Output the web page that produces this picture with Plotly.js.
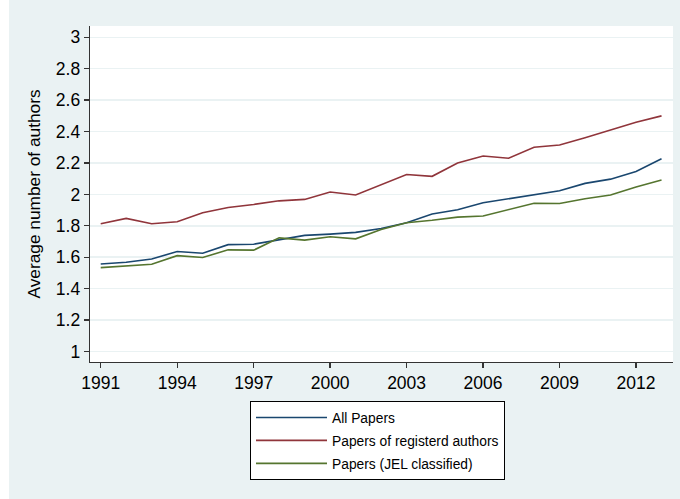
<!DOCTYPE html>
<html>
<head>
<meta charset="utf-8">
<script src="https://cdn.plot.ly/plotly-3.0.1.min.js"></script>
<style>html,body{margin:0;padding:0;background:#fff;}#chart{width:680px;height:499px;}</style>
</head>
<body>
<div id="chart"></div>
<script>
var years = [1991,1992,1993,1994,1995,1996,1997,1998,1999,2000,2001,2002,2003,2004,2005,2006,2007,2008,2009,2010,2011,2012,2013];
var allPapers = [1.557,1.568,1.589,1.636,1.625,1.680,1.683,1.713,1.739,1.747,1.758,1.783,1.820,1.875,1.902,1.947,1.972,1.996,2.023,2.070,2.097,2.146,2.227];
var registeredPapers = [1.813,1.847,1.813,1.826,1.883,1.917,1.936,1.959,1.968,2.015,1.996,2.064,2.127,2.115,2.200,2.244,2.230,2.300,2.314,2.360,2.410,2.459,2.500];
var jelPapers = [1.534,1.543,1.555,1.610,1.598,1.647,1.645,1.723,1.709,1.730,1.717,1.777,1.820,1.835,1.855,1.862,1.904,1.944,1.942,1.972,1.996,2.047,2.091];
var seriesNames = ["All Papers","Papers of registerd authors","Papers (JEL classified)"];
var xTicks = [1991,1994,1997,2000,2003,2006,2009,2012];
var yTicks = [1,1.2,1.4,1.6,1.8,2,2.2,2.4,2.6,2.8,3];

var colors = ["#1A476F","#90353B","#55752F"];
var seriesData = [allPapers, registeredPapers, jelPapers];
var traces = seriesData.map(function(v,i){
  return {x: years, y: v, type:"scatter", mode:"lines", name: seriesNames[i],
    legendgroup: "g"+i, line:{color: colors[i], width:1.6}};
});

var W = 680, H = 499, L = 90, R = 7, T = 26, B = 137;
var pw = W-L-R, ph = H-T-B;
var layout = {
  width: W, height: H,
  margin: {l:L, r:R, t:T, b:B, pad:0},
  paper_bgcolor: "#EAF2F3",
  plot_bgcolor: "#FFFFFF",
  font: {family: "Liberation Sans, Arial, sans-serif", color: "#000"},
  showlegend: true,
  legend: {x:(250-L)/pw, y:(T+ph-401)/ph, xanchor:"left", yanchor:"top",
    bgcolor:"#FFFFFF", bordercolor:"#000", borderwidth:1,
    font:{size:13.8, color:"#000"}, tracegroupgap:2, itemwidth:71},
  xaxis: {range:[1990.58, 2013.45], tickvals: xTicks, ticktext: xTicks.map(String),
    showgrid:false, zeroline:false, showline:true, linecolor:"#333", linewidth:1.3,
    ticks:"outside", ticklen:5, tickcolor:"#333", tickwidth:1.3,
    tickfont:{size:17.5, color:"#000"}},
  yaxis: {range:[0.933, 3.072], tickvals: yTicks, ticktext: yTicks.map(String),
    showgrid:true, gridcolor:"#EAF2F3", gridwidth:1.5, zeroline:false,
    showline:true, linecolor:"#333", linewidth:1.3,
    ticks:"outside", ticklen:5, tickcolor:"#333", tickwidth:1.3,
    tickfont:{size:17.5, color:"#000"},
    title:{text:"Average number of authors", font:{size:17.3, color:"#000"}, standoff:10}},
  shapes: [
    {type:"rect", xref:"paper", yref:"paper", layer:"below",
      x0:-L/pw, x1:(W-L)/pw, y0:(H-T-9)/ph, y1:(H-T)/ph+0.1, fillcolor:"#FFFFFF", line:{width:0}},
    {type:"rect", xref:"paper", yref:"paper", layer:"below",
      x0:-L/pw-0.1, x1:(9-L)/pw, y0:-B/ph-0.1, y1:T/ph+1.1, fillcolor:"#FFFFFF", line:{width:0}}
  ]
};
Plotly.newPlot("chart", traces, layout, {displayModeBar:false, staticPlot:true});
</script>
</body>
</html>
